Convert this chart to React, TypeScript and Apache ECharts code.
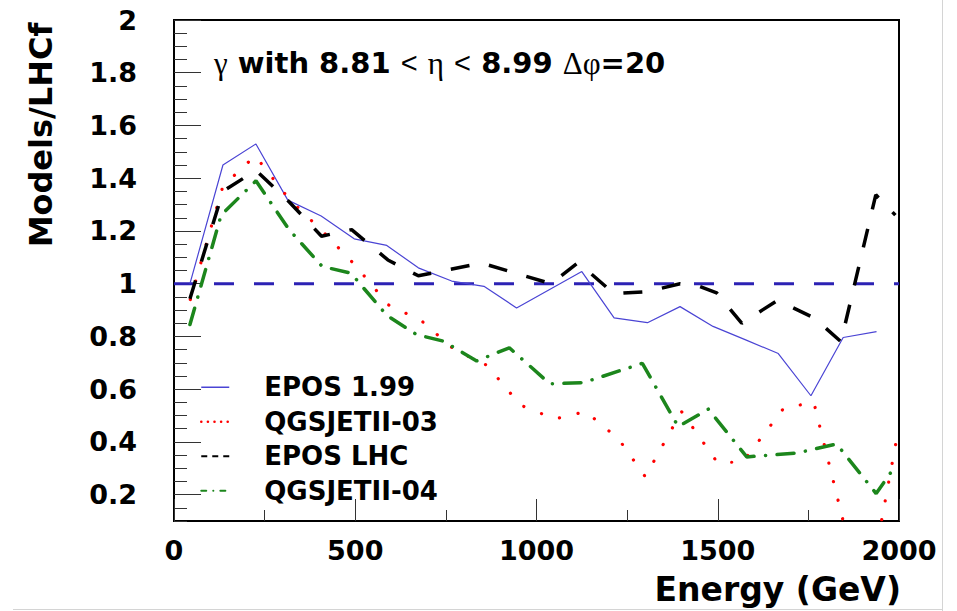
import React, { useEffect, useRef } from "react";
import * as echarts from "echarts";

const FONT = "'DejaVu Sans', sans-serif";

const seriesNames = ["EPOS 1.99", "QGSJETII-03", "EPOS LHC", "QGSJETII-04"];
const yLabelValues = [0.2, 0.4, 0.6, 0.8, 1.0, 1.2, 1.4, 1.6, 1.8, 2.0];

const epos199: [number, number][] = [
  [44, 1.0], [135, 1.45], [226, 1.53], [314, 1.317], [406, 1.257], [497, 1.17],
  [587, 1.145], [674, 1.06], [766, 1.01], [855, 0.99], [945, 0.908], [1035, 0.977],
  [1125, 1.046], [1214, 0.87], [1306, 0.852], [1396, 0.913], [1487, 0.838],
  [1577, 0.787], [1667, 0.735], [1757, 0.575], [1846, 0.796], [1938, 0.818],
];

const qgsjet03: [number, number][] = [
  [45, 0.94], [135, 1.37], [224, 1.485], [318, 1.32], [409, 1.2], [500, 1.07],
  [591, 0.92], [682, 0.86], [773, 0.75], [864, 0.69], [955, 0.54], [1050, 0.487],
  [1136, 0.515], [1227, 0.41], [1300, 0.268], [1400, 0.515], [1500, 0.32],
  [1570, 0.325], [1682, 0.528], [1765, 0.55], [1864, 0.0], [1945, 0.05], [2000, 0.46],
];

const eposLHC: [number, number][] = [
  [44, 0.943], [135, 1.35], [226, 1.43], [318, 1.31], [407, 1.18], [490, 1.205],
  [590, 1.09], [674, 1.03], [849, 1.078], [1040, 1.0], [1115, 1.08], [1214, 0.962],
  [1306, 0.97], [1396, 1.0], [1450, 0.99], [1497, 0.965], [1566, 0.85],
  [1665, 0.937], [1766, 0.87], [1840, 0.78], [1936, 1.337], [1990, 1.26],
];

const qgsjet04: [number, number][] = [
  [44, 0.845], [130, 1.26], [226, 1.39], [318, 1.204], [409, 1.065], [488, 1.04],
  [587, 0.88], [669, 0.807], [743, 0.782], [835, 0.707], [925, 0.757], [1037, 0.62],
  [1130, 0.625], [1292, 0.698], [1391, 0.458], [1474, 0.524], [1580, 0.343],
  [1719, 0.358], [1828, 0.392], [1937, 0.204], [1992, 0.313],
];

const unityLine: [number, number][] = [[0, 1], [2000, 1]];

const BLUE = "#4a44d4";
const DASHBLUE = "#2c22b4";
const RED = "#ff0000";
const GREEN = "#1c861c";

export default function App() {
  const ref = useRef<HTMLDivElement>(null);
  useEffect(() => {
    const chart = echarts.init(ref.current!, null, { renderer: "svg" });
    const labelStyle = { color: "#000", fontFamily: FONT, fontWeight: "bold", fontSize: 27 };
    chart.setOption({
      animation: false,
      backgroundColor: "#fff",
      title: {
        left: 214,
        top: 45,
        padding: 0,
        text: "{g|γ} with 8.81 {s|<} {g|η} {s|<} 8.99 {g|Δφ}=20",
        textStyle: {
          fontFamily: FONT, fontWeight: "bold", fontSize: 29, color: "#000", lineHeight: 36,
          rich: {
            g: { fontFamily: "'Liberation Serif', serif", fontWeight: "normal", fontSize: 31, lineHeight: 36, color: "#000" },
            s: { fontFamily: "'Liberation Sans', sans-serif", fontWeight: "normal", fontSize: 29, lineHeight: 36, color: "#000" },
          },
        },
      },
      legend: {
        orient: "vertical",
        left: 200,
        top: 370,
        padding: 0,
        itemGap: 0,
        itemWidth: 28,
        itemHeight: 14,
        selectedMode: false,
        itemStyle: { opacity: 0 },
        textStyle: { color: "#000", fontFamily: FONT, fontWeight: "bold", fontSize: 26, lineHeight: 34.5, padding: [0, 0, 0, 30] },
        data: [
          { name: seriesNames[0], lineStyle: { color: BLUE, width: 1.5, type: "solid" } },
          { name: seriesNames[1], lineStyle: { color: RED, width: 2.5, type: [0.1, 6.5], cap: "round" } },
          { name: seriesNames[2], lineStyle: { color: "#000", width: 2, type: [6, 5] } },
          { name: seriesNames[3], lineStyle: { color: GREEN, width: 2, type: [5, 7, 0.1, 7], cap: "round" } },
        ],
      },
      grid: { left: 174, right: 58, top: 20, bottom: 90, show: true, borderColor: "#000", borderWidth: 2 },
      xAxis: {
        type: "value", min: 0, max: 2000, interval: 500,
        axisLine: { show: false },
        splitLine: { show: false },
        axisTick: { inside: true, length: 22, lineStyle: { color: "#333", width: 1 } },
        minorTick: { show: true, splitNumber: 2, length: 11, lineStyle: { color: "#333", width: 1 } },
        axisLabel: { ...labelStyle, margin: 16, formatter: (v: number) => String(v) },
      },
      yAxis: [
        {
          type: "value", min: 0.1, max: 2, interval: 0.05, position: "left",
          axisLine: { show: false },
          splitLine: { show: false },
          axisTick: { inside: true, length: 13, lineStyle: { color: "#333", width: 1 } },
          axisLabel: {
            ...labelStyle, margin: 37, customValues: yLabelValues,
            formatter: (v: number) => String(Number(v.toFixed(2))),
          },
        },
        {
          type: "value", min: 0.1, max: 2, position: "left",
          axisLine: { show: false },
          splitLine: { show: false },
          axisLabel: { show: false },
          axisTick: { inside: true, length: 27, customValues: yLabelValues, lineStyle: { color: "#333", width: 1 } },
        },
      ],
      graphic: [
        {
          type: "text", x: 41, y: 135, rotation: Math.PI / 2,
          style: { text: "Models/LHCf", fontFamily: FONT, fontWeight: "bold", fontSize: 32, fill: "#000", align: "center", verticalAlign: "middle" },
        },
        {
          type: "text", x: 901, y: 589,
          style: { text: "Energy (GeV)", fontFamily: FONT, fontWeight: "bold", fontSize: 33, fill: "#000", align: "right", verticalAlign: "middle" },
        },
        { type: "line", shape: { x1: 13, y1: 609.5, x2: 943, y2: 609.5 }, style: { stroke: "#d4d4d4", lineWidth: 1 } },
        { type: "line", shape: { x1: 942.5, y1: 0, x2: 942.5, y2: 611 }, style: { stroke: "#d4d4d4", lineWidth: 1 } },
      ],
      series: [
        {
          name: "unity", type: "line", data: unityLine, symbol: "none", silent: true, z: 1,
          lineStyle: { color: DASHBLUE, width: 3, type: [20, 20] },
        },
        {
          name: seriesNames[0], type: "line", data: epos199, symbol: "none", z: 3,
          itemStyle: { color: BLUE }, lineStyle: { color: BLUE, width: 1.2 },
        },
        {
          name: seriesNames[1], type: "line", data: qgsjet03, symbol: "none", z: 4,
          itemStyle: { color: RED }, lineStyle: { color: RED, width: 3.2, type: [0.1, 19], cap: "round" },
        },
        {
          name: seriesNames[2], type: "line", data: eposLHC, symbol: "none", z: 5,
          itemStyle: { color: "#000" }, lineStyle: { color: "#000", width: 3.5, type: [19, 20] },
        },
        {
          name: seriesNames[3], type: "line", data: qgsjet04, symbol: "none", z: 6,
          itemStyle: { color: GREEN }, lineStyle: { color: GREEN, width: 3.5, type: [17, 11.5, 0.1, 11.5], cap: "round" },
        },
      ],
    });
    return () => chart.dispose();
  }, []);
  return (
    <div
      ref={ref}
      style={{ position: "fixed", left: 0, top: 0, width: 957, height: 611, background: "#fff" }}
    />
  );
}
